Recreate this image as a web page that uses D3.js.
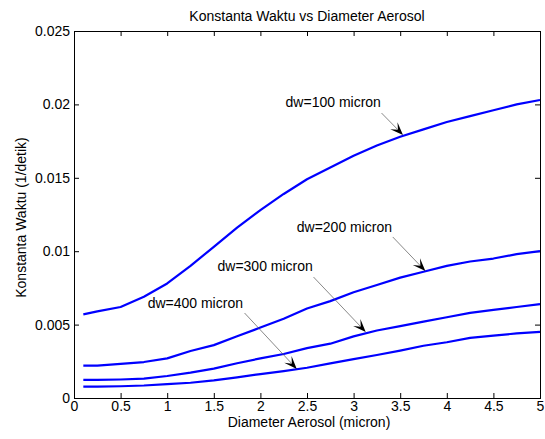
<!DOCTYPE html>
<html>
<head>
<meta charset="utf-8">
<script src="https://cdn.jsdelivr.net/npm/d3@7"></script>
<style>
  html, body { margin: 0; padding: 0; background: #fff; }
  svg { display: block; font-family: "Liberation Sans", Arial, Helvetica, sans-serif; }
</style>
</head>
<body>
<svg id="chart" width="545" height="439"></svg>
<script>
// ---- data ----
const diameter = [0.1, 0.25, 0.5, 0.75, 1.0, 1.25, 1.5, 1.75, 2.0, 2.25, 2.5, 2.75, 3.0, 3.25, 3.5, 3.75, 4.0, 4.25, 4.5, 4.75, 5.0];
const dw100 = [0.0057, 0.0059, 0.0062, 0.0069, 0.0078, 0.0090, 0.0103, 0.0116, 0.0128, 0.0139, 0.0149, 0.0157, 0.0165, 0.0172, 0.0178, 0.0183, 0.0188, 0.0192, 0.0196, 0.0200, 0.0203];
const dw200 = [0.0022, 0.0022, 0.00232, 0.00245, 0.0027, 0.0032, 0.0036, 0.0042, 0.0048, 0.0054, 0.0061, 0.0066, 0.0072, 0.0077, 0.0082, 0.0086, 0.0090, 0.0093, 0.0095, 0.0098, 0.0100];
const dw300 = [0.00123, 0.00123, 0.00126, 0.00132, 0.0015, 0.00173, 0.0020, 0.00237, 0.0027, 0.0030, 0.0034, 0.0037, 0.0042, 0.0046, 0.0049, 0.0052, 0.0055, 0.0058, 0.0060, 0.0062, 0.0064];
const dw400 = [0.00077, 0.00078, 0.0008, 0.00085, 0.00094, 0.00104, 0.0012, 0.00141, 0.00163, 0.00183, 0.00206, 0.00236, 0.00265, 0.00293, 0.00323, 0.00356, 0.0038, 0.0041, 0.00425, 0.0044, 0.0045];
const seriesNames = ["dw=100 micron", "dw=200 micron", "dw=300 micron", "dw=400 micron"];
const xTicks = [0, 0.5, 1, 1.5, 2, 2.5, 3, 3.5, 4, 4.5, 5];
const xTickLabels = ["0", "0.5", "1", "1.5", "2", "2.5", "3", "3.5", "4", "4.5", "5"];
const yTicks = [0, 0.005, 0.01, 0.015, 0.02, 0.025];
const yTickLabels = ["0", "0.005", "0.01", "0.015", "0.02", "0.025"];
// annotation anchors in data units: text (left, baseline), arrow tail, arrow head
const annotText = [[2.27, 0.01982], [2.39, 0.01131], [1.54, 0.00865], [0.79, 0.00613]];
const annotTail = [[3.30, 0.01941], [3.42, 0.01097], [2.57, 0.00824], [1.83, 0.00579]];
const annotHead = [[3.53, 0.01792], [3.77, 0.00865], [3.13, 0.00450], [2.39, 0.00198]];

const allSeries = [dw100, dw200, dw300, dw400];

// ---- layout ----
const svg = d3.select("#chart");
const L = 74, R = 540, T = 31, B = 398;
const FS = 14;

const x = d3.scaleLinear().domain([0, 5]).range([L, R]);
const y = d3.scaleLinear().domain([0, 0.025]).range([B, T]);

svg.append("rect").attr("width", 545).attr("height", 439).attr("fill", "#fff");

// axes
const fmtX = d => xTickLabels[xTicks.indexOf(d)];
const fmtY = d => yTickLabels[yTicks.indexOf(d)];

const gx = svg.append("g").attr("transform", `translate(0,${B})`)
  .call(d3.axisBottom(x).tickValues(xTicks).tickFormat(fmtX).tickSizeInner(-5).tickSizeOuter(0).tickPadding(3));
const gxt = svg.append("g").attr("transform", `translate(0,${T})`)
  .call(d3.axisTop(x).tickValues(xTicks).tickFormat("").tickSizeInner(-5).tickSizeOuter(0));
const gy = svg.append("g").attr("transform", `translate(${L},0)`)
  .call(d3.axisLeft(y).tickValues(yTicks).tickFormat(fmtY).tickSizeInner(-5).tickSizeOuter(0).tickPadding(4));
const gyr = svg.append("g").attr("transform", `translate(${R},0)`)
  .call(d3.axisRight(y).tickValues(yTicks).tickFormat("").tickSizeInner(-5).tickSizeOuter(0));

[gx, gxt, gy, gyr].forEach(g => {
  g.select(".domain").remove();
  g.selectAll("line").attr("stroke", "#000").attr("stroke-width", 1);
  g.selectAll("text").attr("font-size", FS).attr("fill", "#000")
    .attr("font-family", '"Liberation Sans", Arial, Helvetica, sans-serif');
});

svg.append("rect").attr("x", L).attr("y", T).attr("width", R - L).attr("height", B - T)
  .attr("fill", "none").attr("stroke", "#000").attr("stroke-width", 1)
  .attr("shape-rendering", "crispEdges");

// lines
const line = d3.line().x((d, i) => x(diameter[i])).y(d => y(d));
svg.append("g").selectAll("path").data(allSeries).join("path")
  .attr("d", line).attr("fill", "none").attr("stroke", "#0000ff").attr("stroke-width", 2.2)
  .attr("stroke-linejoin", "round");

// annotations
const ann = svg.append("g");
seriesNames.forEach((name, i) => {
  const tx = x(annotText[i][0]), ty = y(annotText[i][1]);
  const x0 = x(annotTail[i][0]), y0 = y(annotTail[i][1]);
  const x1 = x(annotHead[i][0]), y1 = y(annotHead[i][1]);
  ann.append("text").attr("x", tx).attr("y", ty).attr("font-size", FS).attr("fill", "#000").text(name);
  const ang = Math.atan2(y1 - y0, x1 - x0);
  const Lh = 13, W = 10, notch = 0.55;
  ann.append("line").attr("x1", x0).attr("y1", y0)
    .attr("x2", x1 - Math.cos(ang) * Lh * notch).attr("y2", y1 - Math.sin(ang) * Lh * notch)
    .attr("stroke", "#555").attr("stroke-width", 0.7);
  const pts = [[0, 0], [-Lh, -W / 2], [-Lh * notch, 0], [-Lh, W / 2]].map(([u, v]) => [
    x1 + u * Math.cos(ang) - v * Math.sin(ang),
    y1 + u * Math.sin(ang) + v * Math.cos(ang)
  ]);
  ann.append("polygon").attr("points", pts.map(p => p.join(",")).join(" ")).attr("fill", "#000");
});

// titles
svg.append("text").attr("x", (L + R) / 2).attr("y", 20.5).attr("text-anchor", "middle")
  .attr("font-size", FS).attr("fill", "#000").text("Konstanta Waktu vs Diameter Aerosol");
svg.append("text").attr("x", (L + R) / 2 + 2).attr("y", 427).attr("text-anchor", "middle")
  .attr("font-size", FS).attr("fill", "#000").text("Diameter Aerosol (micron)");
svg.append("text").attr("transform", `translate(26,${(T + B) / 2 + 3}) rotate(-90)`).attr("text-anchor", "middle")
  .attr("font-size", FS).attr("fill", "#000").text("Konstanta Waktu (1/detik)");
</script>
</body>
</html>
